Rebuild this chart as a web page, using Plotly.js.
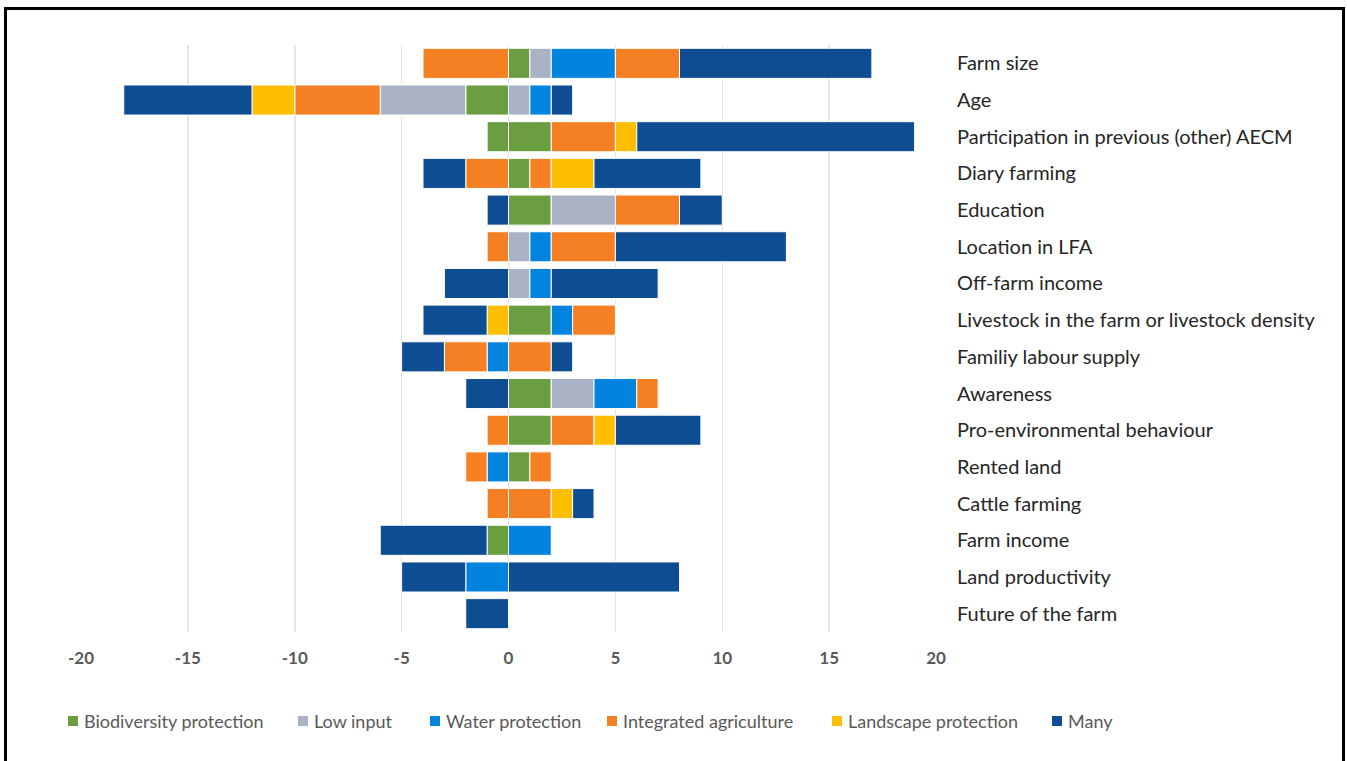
<!DOCTYPE html>
<html>
<head>
<meta charset="utf-8">
<script src="https://cdn.plot.ly/plotly-3.0.1.min.js"></script>
<style>
  html, body { margin: 0; padding: 0; background: #fff; overflow: hidden; }
  #chart { position: absolute; left: 0; top: 0; width: 1347px; height: 761px; }
  #frame { position: absolute; left: 4px; top: 7px; width: 1335px; height: 800px;
           border: 3px solid #000; pointer-events: none; }
</style>
</head>
<body>
<div id="chart"></div>
<div id="frame"></div>
<script>
// Factors, listed top to bottom
const factors = [
  "Farm size", "Age", "Participation in previous (other) AECM", "Diary farming",
  "Education", "Location in LFA", "Off-farm income",
  "Livestock in the farm or livestock density", "Familiy labour supply", "Awareness",
  "Pro-environmental behaviour", "Rented land", "Cattle farming", "Farm income",
  "Land productivity", "Future of the farm"
];

// Scheme types (legend order)
const schemes = ["Biodiversity protection", "Low input", "Water protection",
                 "Integrated agriculture", "Landscape protection", "Many"];
const schemeColors = ["#6a9e41", "#aab2c5", "#0283de", "#f57f23", "#ffbf00", "#0e4d92"];

// Positive effect counts per factor
const biodiversityPos = [1, 0, 2, 1, 2, 0, 0, 2, 0, 2, 2, 1, 0, 0, 0, 0];
const lowInputPos     = [1, 1, 0, 0, 3, 1, 1, 0, 0, 2, 0, 0, 0, 0, 0, 0];
const waterPos        = [3, 1, 0, 0, 0, 1, 1, 1, 0, 2, 0, 0, 0, 2, 0, 0];
const integratedPos   = [3, 0, 3, 1, 3, 3, 0, 2, 2, 1, 2, 1, 2, 0, 0, 0];
const landscapePos    = [0, 0, 1, 2, 0, 0, 0, 0, 0, 0, 1, 0, 1, 0, 0, 0];
const manyPos         = [9, 1, 13, 5, 2, 8, 5, 0, 1, 0, 4, 0, 1, 0, 8, 0];

// Negative effect counts per factor
const biodiversityNeg = [0, -2, -1, 0, 0, 0, 0, 0, 0, 0, 0, 0, 0, -1, 0, 0];
const lowInputNeg     = [0, -4, 0, 0, 0, 0, 0, 0, 0, 0, 0, 0, 0, 0, 0, 0];
const waterNeg        = [0, 0, 0, 0, 0, 0, 0, 0, -1, 0, 0, -1, 0, 0, -2, 0];
const integratedNeg   = [-4, -4, 0, -2, 0, -1, 0, 0, -2, 0, -1, -1, -1, 0, 0, 0];
const landscapeNeg    = [0, -2, 0, 0, 0, 0, 0, -1, 0, 0, 0, 0, 0, 0, 0, 0];
const manyNeg         = [0, -6, 0, -2, -1, 0, -3, -3, -2, -2, 0, 0, 0, -5, -3, -2];

const xTicks = [-20, -15, -10, -5, 0, 5, 10, 15, 20];

const positives = [biodiversityPos, lowInputPos, waterPos, integratedPos, landscapePos, manyPos];
const negatives = [biodiversityNeg, lowInputNeg, waterNeg, integratedNeg, landscapeNeg, manyNeg];

const FONT = "Lato, 'Open Sans', sans-serif";

function bar(values, i) {
  return {
    type: "bar",
    orientation: "h",
    y: factors,
    x: values.map(v => (v === 0 ? null : v)),
    name: schemes[i],
    showlegend: false,
    marker: { color: schemeColors[i], line: { color: "#ffffff", width: 1 } },
    hoverinfo: "x+y+name"
  };
}

const traces = [];
schemes.forEach((s, i) => {
  traces.push(bar(positives[i], i));
  traces.push(bar(negatives[i], i));
});

// Legend row drawn below the axis
const W = 1347, H = 761;
const plotL = 81, plotR = 936, plotT = 45, plotB = 632;
const pw = plotR - plotL, ph = plotB - plotT;
const px = x => (x - plotL) / pw;
const py = y => (plotB - y) / ph;

const legendSquares = [73, 303, 435, 612, 837, 1057];
const legendY = 721;
const shapes = [];
const annotations = [];
schemes.forEach((s, i) => {
  const cx = legendSquares[i];
  shapes.push({
    type: "rect", xref: "paper", yref: "paper",
    x0: px(cx - 5), x1: px(cx + 5), y0: py(legendY + 5), y1: py(legendY - 5),
    fillcolor: schemeColors[i], line: { width: 0 }
  });
  annotations.push({
    xref: "paper", yref: "paper", x: px(cx + 9), y: py(legendY),
    xanchor: "left", yanchor: "middle", showarrow: false,
    text: s, font: { family: FONT, size: 18, color: "#595959" }
  });
});

const layout = {
  width: W, height: H,
  margin: { l: plotL, r: W - plotR, t: plotT, b: H - plotB },
  paper_bgcolor: "#ffffff",
  plot_bgcolor: "#ffffff",
  barmode: "relative",
  bargap: 0.18,
  showlegend: false,
  font: { family: FONT },
  xaxis: {
    range: [-20, 20],
    tickvals: xTicks,
    ticktext: xTicks.map(String),
    showgrid: true, gridcolor: "#e6e6e6", gridwidth: 1.5,
    zeroline: false, showline: false, ticks: "",
    ticklabelstandoff: 14,
    tickfont: { family: FONT, size: 17, color: "#595959", weight: "bold" },
    fixedrange: true
  },
  yaxis: {
    side: "right",
    autorange: "reversed",
    showgrid: false, zeroline: false, showline: false, ticks: "",
    ticklabelstandoff: 20,
    tickfont: { family: FONT, size: 20, color: "#262626" },
    fixedrange: true
  },
  shapes: shapes,
  annotations: annotations
};

Plotly.newPlot("chart", traces, layout, { displayModeBar: false, staticPlot: true });
</script>
</body>
</html>
